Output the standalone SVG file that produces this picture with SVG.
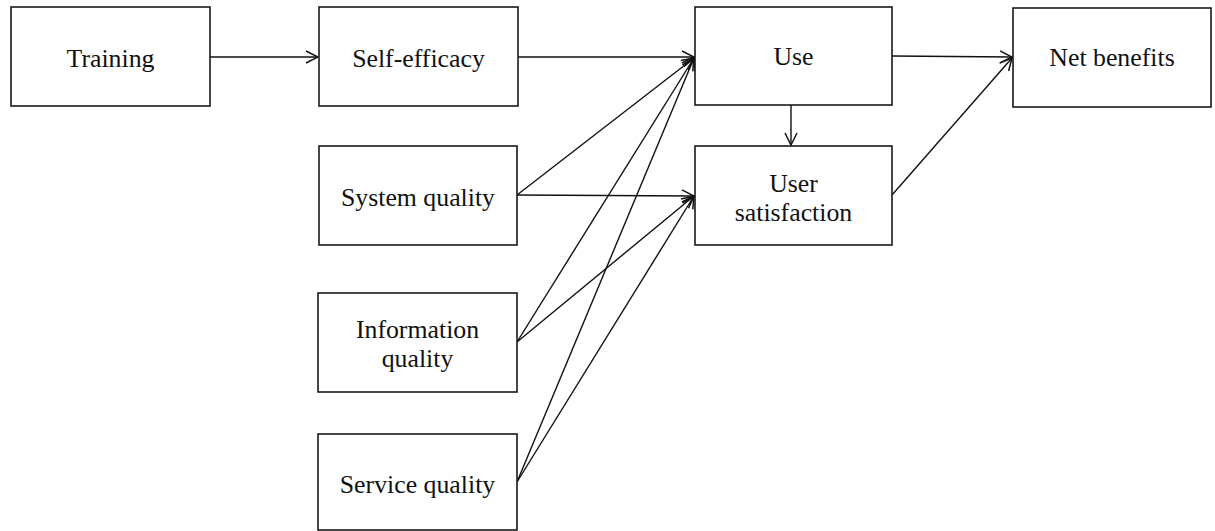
<svg xmlns="http://www.w3.org/2000/svg" width="1215" height="531" viewBox="0 0 1215 531">
  <style>
    .box { fill: #ffffff; stroke: #1a1a1a; stroke-width: 1.6; }
    .lbl { font-family: "Liberation Serif", "Times New Roman", serif; font-size: 25.8px; fill: #111111; text-anchor: middle; }
    .edge { fill: none; stroke: #111111; stroke-width: 1.4; marker-end: url(#arrow); }
  </style>
  <defs>
    <marker id="arrow" viewBox="0 0 14 14" refX="13" refY="7" markerWidth="14" markerHeight="14" markerUnits="userSpaceOnUse" orient="auto">
      <path d="M1,1 L13,7 L1,13" fill="none" stroke="#111111" stroke-width="1.5"/>
    </marker>
  </defs>

  <rect width="1215" height="531" fill="#ffffff"/>

  <g id="connectors">
    <line class="edge" x1="210" y1="57" x2="318" y2="57"/>
    <line class="edge" x1="518" y1="57" x2="694" y2="57"/>
    <line class="edge" x1="892" y1="56" x2="1012" y2="57"/>
    <line class="edge" x1="791" y1="105" x2="791" y2="145"/>
    <line class="edge" x1="892" y1="195" x2="1012" y2="58"/>
    <line class="edge" x1="517" y1="195" x2="694" y2="58"/>
    <line class="edge" x1="517" y1="195" x2="694" y2="196"/>
    <line class="edge" x1="517" y1="342" x2="694" y2="58"/>
    <line class="edge" x1="517" y1="342" x2="694" y2="196"/>
    <line class="edge" x1="517" y1="482" x2="694" y2="58"/>
    <line class="edge" x1="517" y1="482" x2="694" y2="196"/>
  </g>

  <g id="training">
    <rect class="box" x="11" y="7" width="199" height="99"/>
    <text class="lbl" x="110.5" y="67">Training</text>
  </g>
  <g id="self-efficacy">
    <rect class="box" x="319" y="7" width="199" height="99"/>
    <text class="lbl" x="418.5" y="67">Self-efficacy</text>
  </g>
  <g id="system-quality">
    <rect class="box" x="319" y="146" width="198" height="99"/>
    <text class="lbl" x="418" y="206">System quality</text>
  </g>
  <g id="information-quality">
    <rect class="box" x="318" y="293" width="199" height="99"/>
    <text class="lbl" x="417.5" y="338">Information</text>
    <text class="lbl" x="417.5" y="367">quality</text>
  </g>
  <g id="service-quality">
    <rect class="box" x="318" y="434" width="199" height="96"/>
    <text class="lbl" x="417.5" y="493">Service quality</text>
  </g>
  <g id="use">
    <rect class="box" x="695" y="7" width="197" height="98"/>
    <text class="lbl" x="793.5" y="65">Use</text>
  </g>
  <g id="user-satisfaction">
    <rect class="box" x="695" y="146" width="197" height="99"/>
    <text class="lbl" x="793.5" y="192">User</text>
    <text class="lbl" x="793.5" y="221">satisfaction</text>
  </g>
  <g id="net-benefits">
    <rect class="box" x="1013" y="8" width="198" height="99"/>
    <text class="lbl" x="1112" y="66">Net benefits</text>
  </g>
</svg>
